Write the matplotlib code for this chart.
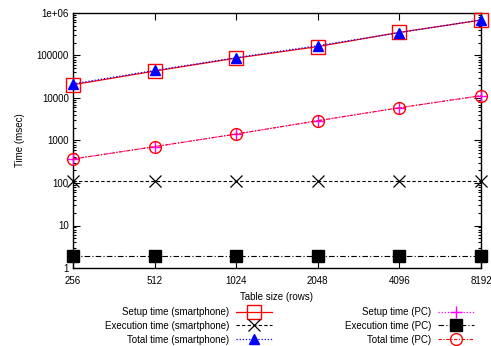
import matplotlib
matplotlib.use('Agg')
import matplotlib.pyplot as plt
import numpy as np

plt.rcParams['font.family'] = ['Liberation Sans', 'DejaVu Sans']
plt.rcParams['font.size'] = 7

# dados
rows = [256, 512, 1024, 2048, 4096, 8192]
setup_phone = [20500, 43000, 87000, 162000, 350000, 680000]
exec_phone = [111, 111, 111, 111, 111, 111]
total_phone = [21500, 44500, 89000, 170000, 345000, 690000]
setup_pc = [367, 716, 1420, 2920, 5900, 11350]
exec_pc = [1.95, 1.95, 1.95, 1.95, 1.95, 1.95]
total_pc = [367, 716, 1420, 2920, 5900, 11350]

ytick_vals = [1, 10, 100, 1000, 10000, 100000, 1000000]
ytick_labels = ['1', '10', '100', '1000', '10000', '100000', '1e+06']

fig = plt.figure(figsize=(4.91, 3.46), dpi=100)
ax = fig.add_axes([73/491, 1-268/346, (481-73)/491, (268-13)/346])

l1, = ax.plot(rows, setup_phone, color='red', lw=0.9, ls='-', marker='s',
              mfc='none', mec='red', ms=9.5, mew=1.0, label='Setup time (smartphone)')
l2, = ax.plot(rows, exec_phone, color='black', lw=0.8, ls=(0, (3, 2)), marker='x',
              ms=8, mew=0.9, label='Execution time (smartphone)')
l3, = ax.plot(rows, total_phone, color='blue', lw=0.9, ls=(0, (1, 1.5)), marker='^',
              ms=7.5, label='Total time (smartphone)')
l4, = ax.plot(rows, setup_pc, color='magenta', lw=0.9, ls=(0, (1, 1.5)), marker='+',
              ms=8, mew=1.0, label='Setup time (PC)')
l5, = ax.plot(rows, exec_pc, color='black', lw=0.8, ls=(0, (5, 2, 1, 2)), marker='s',
              ms=8, label='Execution time (PC)')
l6, = ax.plot(rows, total_pc, color='red', lw=0.8, ls=(0, (3, 1.5, 1, 1.5)), marker='o',
              mfc='none', mec='red', ms=8.5, mew=1.0, label='Total time (PC)')
for l in [l1, l2, l3, l4, l5, l6]:
    l.set_clip_on(False)

ax.set_xscale('log', base=2)
ax.set_yscale('log')
ax.set_xlim(256, 8192)
ax.set_ylim(1, 1e6)
ax.set_xticks(rows)
ax.set_xticklabels([str(r) for r in rows])
ax.xaxis.set_minor_locator(matplotlib.ticker.NullLocator())
ax.set_yticks(ytick_vals)
ax.set_yticklabels(ytick_labels)
ax.yaxis.set_minor_locator(matplotlib.ticker.LogLocator(base=10, subs=np.arange(2, 10), numticks=20))
ax.yaxis.set_minor_formatter(matplotlib.ticker.NullFormatter())

ax.tick_params(which='both', direction='in', top=True, right=True, width=0.8)
ax.tick_params(which='major', length=5)
ax.tick_params(axis='x', which='major', pad=6)
ax.tick_params(axis='y', which='major', pad=3)
ax.tick_params(which='minor', length=2.5)
for s in ax.spines.values():
    s.set_linewidth(1.0)
    s.set_zorder(1)

ax.set_xlabel('Table size (rows)', labelpad=4)
ax.set_ylabel('Time (msec)', labelpad=8)

leg = ax.legend(handles=[l1, l2, l3, l4, l5, l6], ncol=2, markerfirst=False, frameon=False,
                loc='upper left', bbox_to_anchor=(105/491, 1-307/346),
                bbox_transform=fig.transFigure, handlelength=3.7, handletextpad=0.7,
                columnspacing=7.5, labelspacing=0.4, borderpad=0, borderaxespad=0)

fig.savefig('out.png', dpi=100)
